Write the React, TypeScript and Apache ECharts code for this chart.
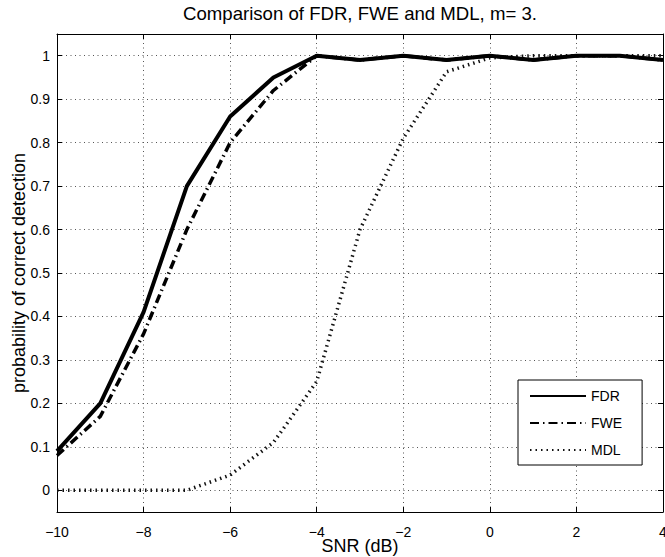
import React, { useEffect, useRef } from "react";
import * as echarts from "echarts";

const snr = [-10, -9, -8, -7, -6, -5, -4, -3, -2, -1, 0, 1, 2, 3, 4];
const fdr = [0.09, 0.2, 0.41, 0.7, 0.86, 0.95, 1.0, 0.99, 1.0, 0.99, 1.0, 0.99, 1.0, 1.0, 0.99];
const fwe = [0.08, 0.17, 0.36, 0.6, 0.8, 0.92, 1.0, 0.99, 1.0, 0.99, 1.0, 0.99, 1.0, 1.0, 0.99];
const mdl = [0, 0, 0, 0, 0.035, 0.11, 0.25, 0.6, 0.81, 0.963, 0.995, 1.0, 1.0, 1.0, 1.0];
const yTicks = [0, 0.1, 0.2, 0.3, 0.4, 0.5, 0.6, 0.7, 0.8, 0.9, 1];
const yLabels = ["0", "0.1", "0.2", "0.3", "0.4", "0.5", "0.6", "0.7", "0.8", "0.9", "1"];

const FONT = "'Liberation Sans', Arial, Helvetica, sans-serif";

export default function App() {
  const ref = useRef<HTMLDivElement>(null);
  useEffect(() => {
    if (!ref.current) return;
    const chart = echarts.init(ref.current, null, { renderer: "svg" });
    const pair = (ys: number[]) => snr.map((x, i) => [x, ys[i]]);
    const gridLine = { show: true, lineStyle: { color: "#555", width: 1, type: [1, 3.5] } };
    chart.setOption({
      animation: false,
      backgroundColor: "#fff",
      textStyle: { fontFamily: FONT },
      title: {
        text: "Comparison of FDR, FWE and MDL, m= 3.",
        left: 360,
        textAlign: "center",
        top: 4,
        padding: 0,
        textStyle: { fontFamily: FONT, fontSize: 18.6, fontWeight: "normal", color: "#000" },
      },
      grid: { left: 57, right: 2, top: 34, bottom: 45, containLabel: false, outerBoundsMode: "none" },
      legend: {
        orient: "vertical",
        left: 518,
        top: 380,
        data: ["FDR", "FWE", "MDL"],
        itemWidth: 56,
        itemHeight: 14,
        itemGap: 13,
        padding: [9, 20, 8, 11],
        borderColor: "#000",
        borderWidth: 1,
        backgroundColor: "#fff",
        borderRadius: 0,
        itemStyle: { opacity: 0 },
        textStyle: { fontFamily: FONT, fontSize: 14, color: "#000" },
      },
      xAxis: [
        {
          type: "value",
          min: -10,
          max: 4,
          interval: 2,
          position: "bottom",
          name: "SNR (dB)",
          nameLocation: "middle",
          nameGap: 25,
          nameMoveOverlap: false,
          nameTextStyle: { fontFamily: FONT, fontSize: 18, color: "#000" },
          axisLine: { show: true, onZero: false, lineStyle: { color: "#000", width: 1 } },
          axisTick: { show: true, inside: true, length: 5, lineStyle: { color: "#000" } },
          axisLabel: {
            margin: 13,
            fontFamily: FONT,
            fontSize: 14,
            color: "#000",
            hideOverlap: false,
            formatter: (v: number) => (v < 0 ? "\u2212" + Math.abs(v) : String(v)),
          },
          splitLine: gridLine,
        },
        {
          type: "value",
          min: -10,
          max: 4,
          interval: 2,
          position: "top",
          axisLine: { show: true, onZero: false, lineStyle: { color: "#000", width: 1 } },
          axisTick: { show: true, inside: true, length: 5, lineStyle: { color: "#000" } },
          axisLabel: { show: false },
          splitLine: { show: false },
        },
      ],
      yAxis: [
        {
          type: "value",
          min: -0.05,
          max: 1.05,
          position: "left",
          name: "probability of correct detection",
          nameLocation: "middle",
          nameGap: 29,
          nameMoveOverlap: false,
          nameTextStyle: { fontFamily: FONT, fontSize: 18, color: "#000" },
          axisLine: { show: true, onZero: false, lineStyle: { color: "#000", width: 1 } },
          axisTick: { show: true, inside: true, length: 5, customValues: yTicks, lineStyle: { color: "#000" } },
          axisLabel: {
            margin: 7,
            fontFamily: FONT,
            fontSize: 14,
            color: "#000",
            customValues: yTicks,
            formatter: (v: number) => {
              const i = yTicks.findIndex((t) => Math.abs(t - v) < 1e-6);
              return i >= 0 ? yLabels[i] : "";
            },
          },
          splitLine: gridLine,
        },
        {
          type: "value",
          min: -0.05,
          max: 1.05,
          position: "right",
          axisLine: { show: true, onZero: false, lineStyle: { color: "#000", width: 1 } },
          axisTick: { show: true, inside: true, length: 5, customValues: yTicks, lineStyle: { color: "#000" } },
          axisLabel: { show: false },
          splitLine: { show: false },
        },
      ],
      series: [
        {
          name: "FDR",
          type: "line",
          data: pair(fdr),
          symbol: "none",
          lineStyle: { color: "#000", width: 4, type: "solid" },
          itemStyle: { color: "#000" },
          z: 4,
        },
        {
          name: "FWE",
          type: "line",
          data: pair(fwe),
          symbol: "none",
          lineStyle: { color: "#000", width: 3.5, type: [9, 4, 1.5, 4] },
          itemStyle: { color: "#000" },
          z: 3,
        },
        {
          name: "MDL",
          type: "line",
          data: pair(mdl),
          symbol: "none",
          lineStyle: { color: "#111", width: 3.5, type: [1.5, 4] },
          itemStyle: { color: "#111" },
          z: 2,
        },
      ],
    });
    return () => chart.dispose();
  }, []);
  return (
    <div
      ref={ref}
      style={{ position: "absolute", left: 0, top: 0, width: 665, height: 557, background: "#fff" }}
    />
  );
}
